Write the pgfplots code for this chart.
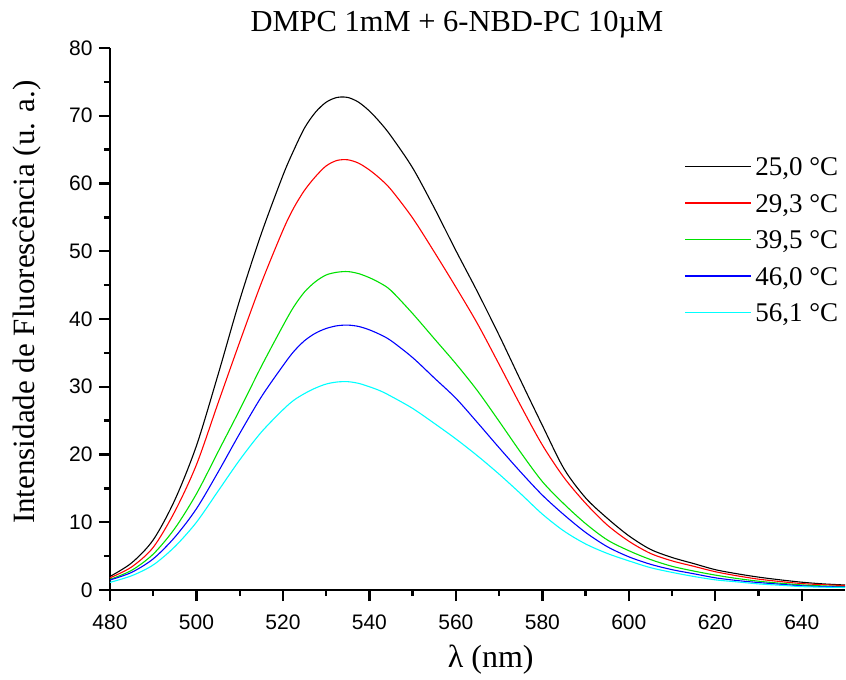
\documentclass[border=0pt]{standalone}
\usepackage{pgfplots}
\pgfplotsset{compat=1.18}
\usepackage{fontspec}
\setmainfont{Liberation Serif}
\newfontfamily\arialfont{Liberation Sans}
\definecolor{cgreen}{RGB}{0,225,0}
\definecolor{ccyan}{RGB}{0,255,255}
\begin{document}
\begin{tikzpicture}
\useasboundingbox (-110pt,-90pt) rectangle (736pt,590pt);
\begin{axis}[
  at={(0pt,0pt)}, anchor=south west,
  scale only axis, width=735pt, height=542pt,
  xmin=480, xmax=650, ymin=0, ymax=80,
  axis x line*=bottom, axis y line*=left,
  xtick={480,500,...,640}, ytick={0,10,...,80},
  minor x tick num=1, minor y tick num=1,
  tick align=outside,
  major tick length=11pt, minor tick length=6pt,
  axis line style={line width=2.4pt},
  every tick/.style={line width=2.4pt, black},
  /pgf/number format/assume math mode=true,
  ticklabel style={font=\arialfont\fontsize{21}{21}\selectfont},
  xticklabel style={yshift=-10pt},
  yticklabel style={xshift=-3pt},
  title={DMPC 1mM + 6-NBD-PC 10µM},
  title style={at={(axis description cs:0.472,1.0203)}, anchor=base, font=\fontsize{30.5}{30.5}\selectfont},
  xlabel={λ (nm)},
  xlabel style={at={(axis description cs:0.518,-0.129)}, anchor=center, font=\fontsize{32}{32}\selectfont},
  ylabel={Intensidade de Fluorescência (u. a.)},
  ylabel style={at={(axis description cs:-0.1135,0.531)}, anchor=center, font=\fontsize{31}{31}\selectfont},
  legend style={draw=none, fill=none, at={(axis description cs:0.777,0.804)}, anchor=north west,
    font=\fontsize{27}{27}\selectfont, row sep=16pt,
    nodes={inner xsep=3.5pt, inner ysep=0pt, text height=19.5pt, text depth=1pt}},
  legend cell align=left,
  legend image code/.code={\draw[#1, line width=1.6pt] (0pt,0pt) -- (66pt,0pt);},
  every axis plot/.append style={line width=1.1pt, smooth},
]
\addplot[black] coordinates {(480,2.0)(485,4.0)(490,7.4)(495,13.3)(500,21.3)(505,31.8)(510,42.8)(515,52.6)(520,61.2)(522.5,64.9)(525,68.2)(527.5,70.5)(530,72.0)(532.5,72.7)(535,72.7)(537.5,72.0)(540,70.7)(542.5,69.0)(545,67.0)(550,62.3)(555,56.4)(560,50.1)(565,44.0)(570,37.6)(575,30.9)(580,24.3)(585,17.9)(590,13.6)(595,10.6)(600,8.0)(605,6.0)(610,4.8)(615,3.9)(620,3.0)(625,2.4)(630,1.9)(635,1.5)(640,1.15)(645,0.9)(650,0.74)};
\addlegendentry{25,0 °C}
\addplot[red] coordinates {(480,1.8)(485,3.4)(490,6.3)(495,11.6)(500,18.5)(505,27.6)(510,36.6)(515,45.3)(520,53.1)(522.5,56.4)(525,59.0)(527.5,61.0)(530,62.6)(532.5,63.4)(535,63.5)(537.5,63.0)(540,62.0)(542.5,60.7)(545,59.1)(550,54.9)(555,49.9)(560,44.7)(565,39.3)(570,33.3)(575,27.2)(580,21.4)(585,16.6)(590,12.8)(595,9.6)(600,7.2)(605,5.4)(610,4.3)(615,3.5)(620,2.7)(625,2.1)(630,1.6)(635,1.25)(640,0.95)(645,0.78)(650,0.66)};
\addlegendentry{29,3 °C}
\addplot[cgreen] coordinates {(480,1.57)(485,2.9)(490,5.3)(495,9.1)(500,14.2)(505,20.4)(510,26.6)(515,33.0)(520,39.0)(522.5,41.8)(525,44.0)(527.5,45.5)(530,46.5)(532.5,46.9)(535,47.0)(537.5,46.7)(540,46.1)(542.5,45.3)(545,44.2)(550,40.8)(555,37.1)(560,33.4)(565,29.4)(570,24.9)(575,20.3)(580,16.0)(585,12.7)(590,9.8)(595,7.4)(600,5.8)(605,4.5)(610,3.5)(615,2.8)(620,2.2)(625,1.7)(630,1.3)(635,1.0)(640,0.75)(645,0.6)(650,0.5)};
\addlegendentry{39,5 °C}
\addplot[blue] coordinates {(480,1.48)(485,2.6)(490,4.6)(495,7.8)(500,12.0)(505,17.4)(510,23.1)(515,28.5)(520,33.1)(522.5,35.2)(525,36.8)(527.5,37.9)(530,38.6)(532.5,39.0)(535,39.1)(537.5,38.9)(540,38.4)(542.5,37.7)(545,36.8)(550,34.3)(555,31.3)(560,28.3)(565,24.7)(570,21.0)(575,17.4)(580,14.0)(585,11.1)(590,8.5)(595,6.4)(600,4.9)(605,3.8)(610,3.0)(615,2.4)(620,1.8)(625,1.4)(630,1.1)(635,0.85)(640,0.62)(645,0.5)(650,0.45)};
\addlegendentry{46,0 °C}
\addplot[ccyan] coordinates {(480,1.13)(485,2.1)(490,3.7)(495,6.4)(500,10.0)(505,14.6)(510,19.2)(515,23.3)(520,26.6)(522.5,28.0)(525,29.0)(527.5,29.8)(530,30.4)(532.5,30.7)(535,30.75)(537.5,30.5)(540,30.0)(542.5,29.4)(545,28.6)(550,26.8)(555,24.6)(560,22.3)(565,19.8)(570,17.1)(575,14.2)(580,11.2)(585,8.7)(590,6.8)(595,5.4)(600,4.3)(605,3.3)(610,2.6)(615,2.0)(620,1.5)(625,1.2)(630,0.9)(635,0.7)(640,0.5)(645,0.42)(650,0.37)};
\addlegendentry{56,1 °C}
\end{axis}
\end{tikzpicture}
\end{document}
